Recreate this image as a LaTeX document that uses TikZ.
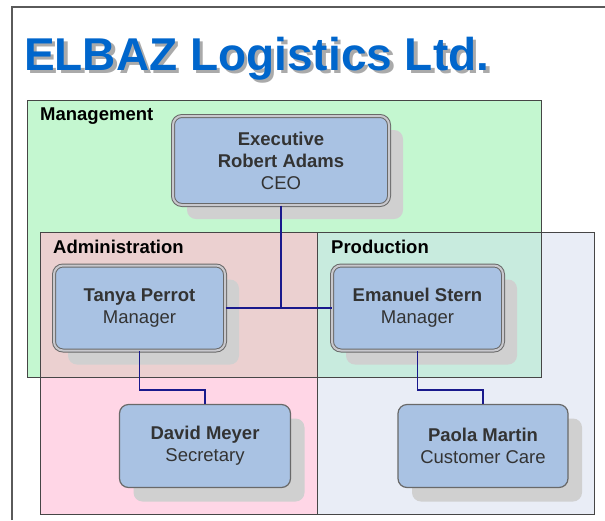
\documentclass[tikz,border=0pt]{standalone}
\usepackage{fontspec}
\setmainfont{Liberation Sans}
\usetikzlibrary{shadows}
\definecolor{mgmtgreen}{RGB}{196,247,208}
\definecolor{admpink}{RGB}{255,214,230}
\definecolor{admmix}{RGB}{235,208,208}
\definecolor{prodblue}{RGB}{233,237,246}
\definecolor{prodmix}{RGB}{200,235,222}
\definecolor{groupedge}{RGB}{70,70,70}
\definecolor{boxblue}{RGB}{169,194,227}
\definecolor{boxedge}{RGB}{105,105,105}
\definecolor{gapgray}{RGB}{200,200,205}
\definecolor{shadowgray}{RGB}{208,208,208}
\definecolor{textgray}{RGB}{51,51,51}
\definecolor{navyline}{RGB}{25,25,140}
\definecolor{titleblue}{RGB}{0,102,204}
\definecolor{titleshadow}{RGB}{170,170,170}
\definecolor{framegray}{RGB}{90,90,90}
\begin{document}
\begin{tikzpicture}[x=1pt,y=-1pt,
  box/.style={rectangle, rounded corners=9pt, fill=boxblue, draw=boxedge, line width=1.2pt,
    align=center, text=textgray, font=\fontsize{18.5}{22}\selectfont, inner sep=0pt,
    drop shadow={shadow xshift=14pt, shadow yshift=-14pt, fill=shadowgray, opacity=1}},
  dbox/.style={box, double=gapgray, double distance=2pt, line width=1pt},
  conn/.style={draw=navyline, line width=1.3pt},
  grouplabel/.style={anchor=base west, inner sep=0pt, font=\fontsize{18.5}{22}\selectfont\bfseries, text=black},
  titlefont/.style={anchor=base west, inner sep=0pt, font=\fontsize{46}{54}\selectfont\bfseries}
]
\useasboundingbox (0,0) rectangle (605,520);
\fill[white] (0,0) rectangle (605,520);
% frame
\draw[framegray, line width=1.5pt] (12,520) -- (12,7) -- (605,7);
% title
\node[titlefont, text=titleshadow] (titlesh) at (27.5,73.5) {ELBAZ Logistics Ltd.};
\node[titlefont, text=titleblue] (title) at (24,70) {ELBAZ Logistics Ltd.};
% group fills
\fill[mgmtgreen] (27,100) rectangle (541,377);
\fill[admpink] (40,232) rectangle (317,514);
\fill[prodblue] (317,232) rectangle (594,514);
\fill[admmix] (40,232) rectangle (317,377);
\fill[prodmix] (317,232) rectangle (541,377);
% group borders
\draw[groupedge, line width=1pt] (27,100) rectangle (541,377);
\draw[groupedge, line width=1pt] (40,232) rectangle (317,514);
\draw[groupedge, line width=1pt] (317,232) rectangle (594,514);
% group labels
\node[grouplabel] (lmgmt) at (40,120) {Management};
\node[grouplabel] (ladm) at (53,253) {Administration};
\node[grouplabel] (lprod) at (331,253) {Production};
% boxes
\node[dbox, minimum width=216pt, minimum height=89pt] (ceo) at (281,160.5)
  {\textbf{Executive}\\\textbf{Robert Adams}\\CEO};
\node[dbox, minimum width=171pt, minimum height=85pt] (tanya) at (139.5,308)
  {\textbf{Tanya Perrot}\\Manager};
\node[dbox, minimum width=171pt, minimum height=85pt] (emanuel) at (417.5,308)
  {\textbf{Emanuel Stern}\\Manager};
\node[box, minimum width=171pt, minimum height=83pt] (david) at (205,446)
  {\textbf{David Meyer}\\Secretary};
\node[box, minimum width=170pt, minimum height=83pt] (paola) at (483,446)
  {\textbf{Paola Martin}\\Customer Care};
% connectors
\draw[conn] (ceo.south) -- (ceo.south |- tanya.east);
\draw[conn] (tanya.east) -- (emanuel.west);
\draw[conn] (tanya.south) -- ++(0,39) -| (david.north);
\draw[conn] (emanuel.south) -- ++(0,39) -| (paola.north);
\end{tikzpicture}
\end{document}
